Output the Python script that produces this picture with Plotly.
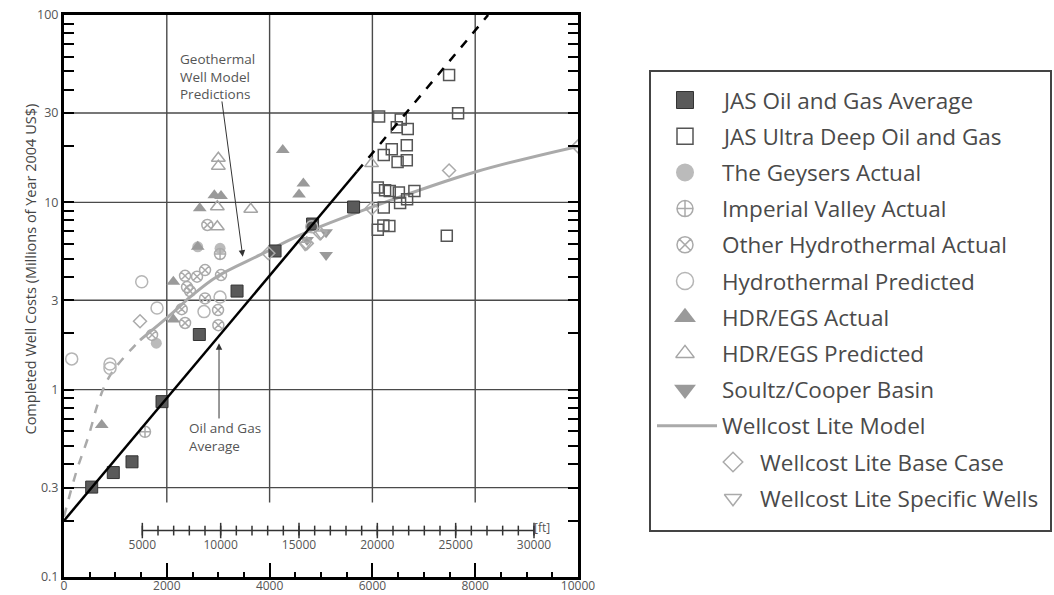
import math
import plotly.graph_objects as go

FONT = "Open Sans, DejaVu Sans, sans-serif"

# ---------------- data (depth in m, cost in millions of 2004 US$) ----------------
jas_avg_depth = [539, 959, 1323, 1907, 2633, 3367, 4106, 4836, 5634]
jas_avg_cost = [0.302, 0.361, 0.412, 0.863, 1.97, 3.36, 5.5, 7.66, 9.44]

ultra_deep_depth = [7492, 7667, 6130, 6552, 6474, 6688, 6377, 6221, 6669, 6669, 6490,
                    6105, 6247, 6338, 6515, 6817, 6675, 6539, 6221, 6105, 6214, 6330, 7447]
ultra_deep_cost = [47.9, 29.9, 28.7, 27.7, 25.2, 24.6, 19.2, 17.9, 20.2, 16.8, 16.4,
                   12.0, 11.6, 11.5, 11.3, 11.5, 10.4, 9.92, 9.38, 7.14, 7.52, 7.47, 6.64]

geysers_depth = [2602, 3036, 1796]
geysers_cost = [5.79, 5.68, 1.77]

imperial_depth = [1576, 3036]
imperial_cost = [0.596, 5.3]

other_hydro_depth = [2789, 2355, 2588, 2744, 3055, 2394, 2452, 2744, 2997, 2290, 2355, 3003, 1713]
other_hydro_cost = [7.57, 4.05, 4.01, 4.35, 4.09, 3.53, 3.36, 3.07, 2.66, 2.69, 2.27, 2.21, 1.96]

hydro_pred_depth = [1512, 150, 895, 895, 1810, 3036, 2724, 4820]
hydro_pred_cost = [3.77, 1.46, 1.37, 1.30, 2.73, 3.12, 2.61, 7.41]

hdr_act_depth = [2641, 2925, 3055, 2127, 2127, 734, 4256, 4657, 4573, 2602]
hdr_act_cost = [9.29, 10.9, 10.8, 3.77, 2.37, 0.647, 19.0, 12.6, 11.0, 5.79]

hdr_pred_depth = [3003, 3003, 2983, 2983, 3633, 5984]
hdr_pred_cost = [17.2, 15.6, 9.48, 7.41, 9.18, 16.1]

soultz_depth = [4729, 5099, 5099]
soultz_cost = [6.29, 6.93, 5.24]

wcl_model_dash_depth = [0, 247, 473, 700, 928, 1479]
wcl_model_dash_cost = [0.21, 0.37, 0.56, 0.91, 1.23, 1.84]
wcl_model_depth = [1479, 2063, 2452, 2972, 3814, 4593, 6013, 8031, 10000]
wcl_model_cost = [1.84, 2.50, 3.12, 4.01, 5.24, 6.68, 9.48, 14.6, 19.9]

wcl_base_depth = [1479, 7492, 10000, 5988, 4982, 4723, 3976]
wcl_base_cost = [2.32, 14.8, 19.9, 9.29, 6.83, 6.04, 5.35]

wcl_specific_depth = [4690, 5001]
wcl_specific_cost = [5.92, 6.8]

oil_gas_trend_depth = [0, 5700]
oil_gas_trend_cost = [0.20, 14.6]
oil_gas_trend_ext_depth = [5700, 8251]
oil_gas_trend_ext_cost = [14.6, 100]

x_tick_values = [0, 2000, 4000, 6000, 8000, 10000]
x_tick_labels = ["0", "2000", "4000", "6000", "8000", "10000"]
x_mid_ticks = [1000, 3000, 5000, 7000, 9000]
y_tick_values = [0.1, 0.3, 1, 3, 10, 30, 100]
y_tick_labels = ["0.1", "0.3", "1", "3", "10", "30", "100"]
x_grid = [2000, 4000, 6000, 8000]
x_grid_floor = 0.25
y_grid = [0.3, 1, 3, 10, 30]

ft_minor_ticks = [5000 + 1000 * i for i in range(26)]
ft_major_ticks = [5000, 10000, 15000, 20000, 25000, 30000]
ft_labels = ["5000", "10000", "15000", "20000", "25000", "30000"]
FT_TO_M = 0.3048
ft_scale_level = 0.177
ft_unit_level = 0.180
ft_label_level = 0.146

legend_labels = ["JAS Oil and Gas Average", "JAS Ultra Deep Oil and Gas", "The Geysers Actual",
                 "Imperial Valley Actual", "Other Hydrothermal Actual", "Hydrothermal Predicted",
                 "HDR/EGS Actual", "HDR/EGS Predicted", "Soultz/Cooper Basin",
                 "Wellcost Lite Model", "Wellcost Lite Base Case", "Wellcost Lite Specific Wells"]

geo_note = "Geothermal<br>Well Model<br>Predictions"
geo_note_pos = (2218, 47.2)
oil_note = "Oil and Gas<br>Average"
oil_note_pos = (2388, 0.559)

# ---------------- styles ----------------
series = [
    (jas_avg_depth, jas_avg_cost, dict(symbol="square", color="#5a5a5a", size=12, line=dict(color="#333", width=1)), 17),
    (ultra_deep_depth, ultra_deep_cost, dict(symbol="square-open", color="#555", size=11, line=dict(width=1.5)), 16),
    (geysers_depth, geysers_cost, dict(symbol="circle", color="#bbbbbb", size=11), 18),
    (imperial_depth, imperial_cost, dict(symbol="circle-cross-open", color="#aaaaaa", size=11, line=dict(width=1.5)), 16),
    (other_hydro_depth, other_hydro_cost, dict(symbol="circle-x-open", color="#aaaaaa", size=11, line=dict(width=1.5)), 16),
    (hydro_pred_depth, hydro_pred_cost, dict(symbol="circle-open", color="#b5b5b5", size=12, line=dict(width=1.5)), 17),
    (hdr_act_depth, hdr_act_cost, dict(symbol="triangle-up", color="#9a9a9a", size=12), 19),
    (hdr_pred_depth, hdr_pred_cost, dict(symbol="triangle-up-open", color="#a5a5a5", size=12, line=dict(width=1.5)), 16),
    (soultz_depth, soultz_cost, dict(symbol="triangle-down", color="#9a9a9a", size=12), 19),
    None,
    (wcl_base_depth, wcl_base_cost, dict(symbol="diamond-open", color="#aaaaaa", size=10, line=dict(width=1.5)), 15),
    (wcl_specific_depth, wcl_specific_cost, dict(symbol="triangle-down-open", color="#aaaaaa", size=11, line=dict(width=1.5)), 15),
]

fig = go.Figure()

# grid lines
gx, gy = [], []
for v in x_grid:
    gx += [v, v, None]
    gy += [x_grid_floor, 100, None]
for v in y_grid:
    gx += [0, 10000, None]
    gy += [v, v, None]
fig.add_trace(go.Scatter(x=gx, y=gy, mode="lines", line=dict(color="#4a4a4a", width=1.4),
                         hoverinfo="skip", showlegend=False))

# ft scale
fig.add_trace(go.Scatter(x=[ft_minor_ticks[0] * FT_TO_M, ft_minor_ticks[-1] * FT_TO_M],
                         y=[ft_scale_level, ft_scale_level], mode="lines",
                         line=dict(color="#333", width=1.5), showlegend=False, hoverinfo="skip"))
fig.add_trace(go.Scatter(x=[v * FT_TO_M for v in ft_minor_ticks], y=[ft_scale_level] * len(ft_minor_ticks),
                         mode="markers", marker=dict(symbol="line-ns", size=7, line=dict(color="#333", width=1.5)),
                         showlegend=False, hoverinfo="skip"))
fig.add_trace(go.Scatter(x=[v * FT_TO_M for v in ft_major_ticks], y=[ft_scale_level] * len(ft_major_ticks),
                         mode="markers", marker=dict(symbol="line-ns", size=11, line=dict(color="#333", width=1.5)),
                         showlegend=False, hoverinfo="skip"))
fig.add_trace(go.Scatter(x=[v * FT_TO_M for v in ft_major_ticks], y=[ft_label_level] * len(ft_major_ticks),
                         mode="text", text=ft_labels, textfont=dict(family=FONT, size=12, color="#555"),
                         showlegend=False, hoverinfo="skip"))
fig.add_trace(go.Scatter(x=[ft_major_ticks[-1] * FT_TO_M], y=[ft_unit_level], mode="text", text=["[ft]"],
                         textposition="middle right", textfont=dict(family=FONT, size=12, color="#555"),
                         showlegend=False, hoverinfo="skip"))

# model lines
fig.add_trace(go.Scatter(x=wcl_model_dash_depth, y=wcl_model_dash_cost, mode="lines",
                         line=dict(color="#aaaaaa", width=2.5, dash="dash", shape="spline"),
                         showlegend=False, hoverinfo="skip"))
fig.add_trace(go.Scatter(x=wcl_model_depth, y=wcl_model_cost, mode="lines",
                         line=dict(color="#aaaaaa", width=3, shape="spline"),
                         showlegend=False, hoverinfo="skip"))

# markers
for s in series:
    if s is None:
        continue
    fig.add_trace(go.Scatter(x=s[0], y=s[1], mode="markers", marker=s[2], showlegend=False))

fig.add_trace(go.Scatter(x=oil_gas_trend_depth, y=oil_gas_trend_cost, mode="lines",
                         line=dict(color="black", width=2.5), showlegend=False, hoverinfo="skip"))
fig.add_trace(go.Scatter(x=oil_gas_trend_ext_depth, y=oil_gas_trend_ext_cost, mode="lines",
                         line=dict(color="black", width=2.5, dash="dash"), showlegend=False, hoverinfo="skip"))

# ---------------- manual legend on a helper axis (units = px inside the box) ----------------
ROW0, ROWH = 29, 36.2
for i, label in enumerate(legend_labels):
    yrow = ROW0 + ROWH * i
    s = series[i]
    indent = i >= 10
    mx = 83 if indent else 35
    tx = 108 if indent else 70
    if s is None:
        fig.add_trace(go.Scatter(x=[7, 67], y=[yrow, yrow], mode="lines", xaxis="x2", yaxis="y2",
                                 line=dict(color="#aaaaaa", width=3), showlegend=False, hoverinfo="skip"))
    else:
        m = dict(s[2])
        m["size"] = s[3]
        fig.add_trace(go.Scatter(x=[mx], y=[yrow], mode="markers", marker=m, xaxis="x2", yaxis="y2",
                                 showlegend=False, hoverinfo="skip"))
    fig.add_annotation(x=tx, y=yrow, xref="x2", yref="y2", text=label, showarrow=False,
                       xanchor="left", yanchor="middle",
                       font=dict(family=FONT, size=22.5, color="#4a4a4a"))

W, H = 1054, 595
L, R, T, B = 64, 578, 15, 577
LX0, LX1, LY0, LY1 = 650, 1051, 71, 531

fig.add_shape(type="rect", xref="paper", yref="paper", x0=LX0 / W, x1=LX1 / W,
              y0=1 - LY1 / H, y1=1 - LY0 / H, line=dict(color="#444", width=2))

# annotations in the plot (log axis -> log10 for y)
fig.add_annotation(x=geo_note_pos[0], y=math.log10(geo_note_pos[1]), xref="x", yref="y", text=geo_note,
                   showarrow=False, xanchor="left", yanchor="middle", align="left",
                   font=dict(family=FONT, size=13.5, color="#555"))
fig.add_annotation(x=oil_note_pos[0], y=math.log10(oil_note_pos[1]), xref="x", yref="y", text=oil_note,
                   showarrow=False, xanchor="left", yanchor="middle", align="left",
                   font=dict(family=FONT, size=13.5, color="#555"))
fig.add_annotation(x=3478, y=math.log10(5.13), ax=3069, ay=math.log10(35.2), xref="x", yref="y",
                   axref="x", ayref="y", text="", showarrow=True, arrowhead=2, arrowsize=1.3,
                   arrowwidth=1, arrowcolor="#333")
fig.add_annotation(x=3016, y=math.log10(1.77), ax=3016, ay=math.log10(0.689), xref="x", yref="y",
                   axref="x", ayref="y", text="", showarrow=True, arrowhead=2, arrowsize=1.3,
                   arrowwidth=1, arrowcolor="#333")

fig.add_annotation(x=19 / W, y=1 - 269 / H, xref="paper", yref="paper",
                   text="Completed Well Costs (Millions of Year 2004 US$)", textangle=-90,
                   showarrow=False, font=dict(family=FONT, size=14.5, color="#444"))

# y tick positions: every 1..9 multiple in each decade, labelled only at chosen values
y_all_ticks = []
y_all_text = []
for e in range(-1, 2):
    for m in range(1, 10):
        v = round(m * 10 ** e, 6)
        y_all_ticks.append(v)
        y_all_text.append(y_tick_labels[y_tick_values.index(v)] if v in y_tick_values else "")
y_all_ticks.append(100)
y_all_text.append("100")

fig.update_layout(
    width=W, height=H, margin=dict(l=0, r=0, t=0, b=0, autoexpand=False),
    paper_bgcolor="white", plot_bgcolor="white",
    font=dict(family=FONT, size=13, color="#555"),
    xaxis=dict(domain=[L / W, R / W], range=[0, 10000], tickvals=x_tick_values, ticktext=x_tick_labels,
               ticks="inside", ticklen=14, tickwidth=2, tickcolor="black", automargin=False,
               ticklabelstandoff=-4,
               minor=dict(dtick=500, tick0=0, ticks="inside", ticklen=5, tickwidth=2, tickcolor="black"),
               showline=True, linewidth=3, linecolor="black", mirror=True, showgrid=False, zeroline=False,
               tickfont=dict(family=FONT, size=12, color="#555")),
    xaxis3=dict(overlaying="x", anchor="y", range=[0, 10000], tickvals=x_mid_ticks, ticks="inside", ticklen=9,
                tickwidth=2, tickcolor="black", showticklabels=False, showline=False, showgrid=False,
                zeroline=False, automargin=False),
    yaxis=dict(domain=[1 - B / H, 1 - T / H], type="log", range=[-1, 2], tickvals=y_all_ticks,
               ticktext=y_all_text, ticks="inside", ticklen=10, tickwidth=2, tickcolor="black", automargin=False,
               showline=True, linewidth=3, linecolor="black", mirror="ticks", showgrid=False, zeroline=False,
               tickfont=dict(family=FONT, size=12.5, color="#555")),
    xaxis2=dict(domain=[LX0 / W, LX1 / W], range=[0, LX1 - LX0], visible=False, anchor="y2", automargin=False),
    yaxis2=dict(domain=[1 - LY1 / H, 1 - LY0 / H], range=[LY1 - LY0, 0], visible=False, anchor="x2",
                automargin=False),
)

# remove the browser's default 8px body margin so the figure sits at the window origin
fig.write_html("out.html", config={"displayModeBar": False},
               post_script="document.body.style.margin='0';document.body.style.overflow='hidden';")
